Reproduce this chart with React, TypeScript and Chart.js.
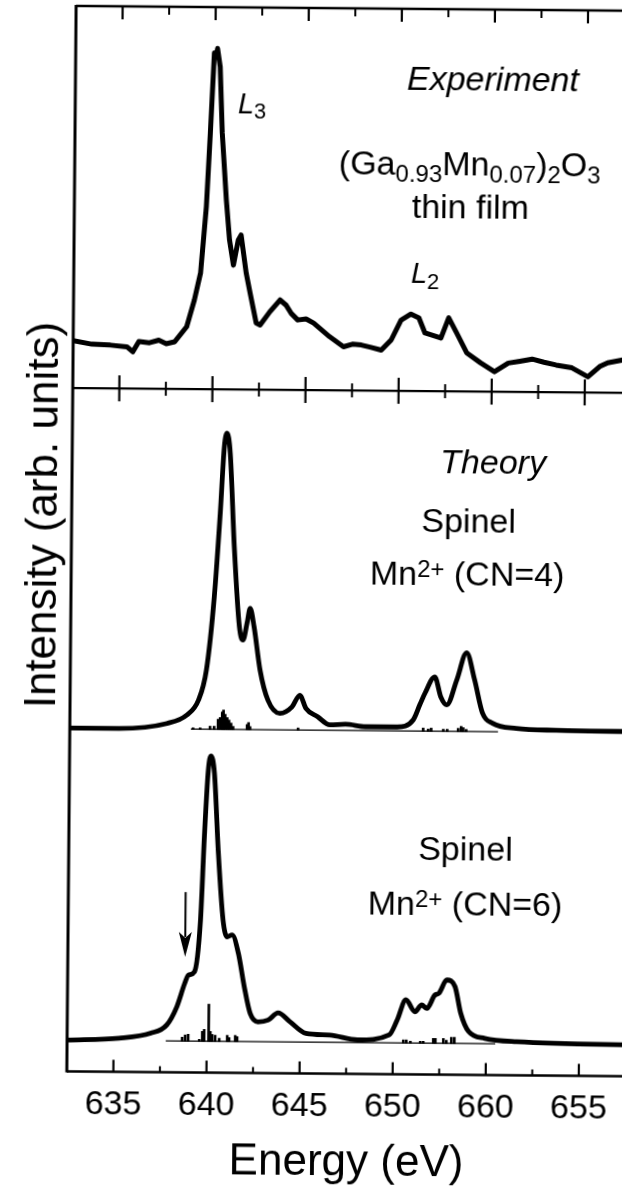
import { useEffect, useRef } from "react";
import { Chart, registerables } from "chart.js";

Chart.register(...registerables);

// ---------- axis ----------
const ENERGY_MIN = 632.5;
const ENERGY_MAX = 663.6;
const Y_MAX = 2.789;
const MAJOR_TICKS = [635, 640, 645, 650, 655, 660];
const TICK_LABELS = ["635", "640", "645", "650", "660", "655"];
const MINOR_TICKS = [637.5, 642.5, 647.5, 652.5, 657.5, 662.5];

// ---------- experiment (Ga0.93Mn0.07)2O3 thin film ----------
const EXP_ENERGY = [
  632.5, 633.5, 634.5, 635.39, 635.71, 636.03, 636.6, 637.1, 637.5, 637.95, 638.59, 638.99, 639.31, 639.59,
  639.77, 639.95, 640.05, 640.12, 640.27, 640.41, 640.66, 640.85, 641.07, 641.32, 641.47, 641.76,
  641.98, 642.32, 642.53, 643.05, 643.59, 643.91, 644.2, 644.55, 645.0, 645.41, 646.27, 647.02, 647.5,
  647.98, 648.5, 649.05, 649.58, 650.1, 650.63, 651.06, 651.39, 652.25, 652.66, 653.09, 653.64,
  654.39, 655.14, 655.88, 656.5, 657.16, 657.8, 658.45, 659.3, 660.16, 660.79, 661.22, 662.03, 663.6,
];
const EXP_INTENSITY = [
  0.124, 0.115, 0.113, 0.109, 0.096, 0.123, 0.12, 0.127, 0.118, 0.123, 0.163, 0.233, 0.304, 0.477,
  0.67, 0.88, 0.87, 0.892, 0.844, 0.671, 0.496, 0.391, 0.325, 0.391, 0.404, 0.305,
  0.253, 0.174, 0.169, 0.204, 0.235, 0.222, 0.2, 0.183, 0.186, 0.175, 0.14, 0.114, 0.121,
  0.119, 0.113, 0.106, 0.133, 0.185, 0.201, 0.191, 0.152, 0.139, 0.192, 0.153, 0.101,
  0.075, 0.052, 0.075, 0.08, 0.086, 0.078, 0.071, 0.064, 0.041, 0.068, 0.078, 0.086, 0.09,
];

// ---------- theory: spinel Mn2+ CN=4 ----------
const CN4_ENERGY = [
  632.5, 635.15, 637.71, 638.77, 639.4, 639.81, 640.2, 640.48, 640.67, 640.81, 640.99, 641.25, 641.56,
  641.76, 641.97, 642.13, 642.35, 642.69, 643.13, 643.78, 644.42, 644.84, 645.17, 645.81, 646.46,
  647.3, 648.38, 650.08, 650.94, 651.3, 651.56, 652.08, 652.41, 652.74, 653.26, 653.78, 654.22, 654.66,
  655.2, 656.48, 658.62, 663.6,
];
const CN4_INTENSITY = [
  0.0, 0.0, 0.014, 0.036, 0.076, 0.155, 0.347, 0.565, 0.74, 0.775, 0.723, 0.478, 0.269,
  0.234, 0.278, 0.317, 0.269, 0.156, 0.077, 0.043, 0.06, 0.091, 0.057, 0.035, 0.014,
  0.016, 0.01, 0.01, 0.029, 0.07, 0.099, 0.142, 0.09, 0.069, 0.134, 0.206, 0.135, 0.048,
  0.022, 0.009, 0.005, 0.003,
];
const CN4_STICK_ENERGY = [
  639.12, 639.5, 640.03, 640.25, 640.46, 640.57, 640.68, 640.75, 640.84, 640.95, 641.05, 641.16, 641.27,
  642.02, 642.1, 642.18, 644.76, 651.48, 651.75, 651.91, 652.56, 652.77, 653.36, 653.52, 653.63, 653.79,
];
const CN4_STICK_HEIGHT = [
  0.003, 0.003, 0.008, 0.008, 0.026, 0.031, 0.045, 0.05, 0.039, 0.031, 0.024, 0.016, 0.008,
  0.013, 0.018, 0.008, 0.005, 0.008, 0.005, 0.008, 0.005, 0.005, 0.008, 0.013, 0.01, 0.005,
];

// ---------- theory: spinel Mn2+ CN=6 ----------
const CN6_ENERGY = [
  632.5, 635.29, 636.99, 637.85, 638.38, 638.79, 638.99, 639.31, 639.61, 639.78, 639.96, 640.1, 640.29,
  640.54, 640.82, 641.05, 641.32, 641.66, 641.99, 642.32, 642.75, 643.29, 643.82, 644.46, 645.32,
  646.6, 648.09, 649.8, 650.22, 650.68, 651.17, 651.53, 651.81, 652.23, 652.45, 652.87, 653.31,
  653.63, 654.07, 654.93, 656.64, 663.6,
];
const CN6_INTENSITY = [
  0.0, 0.006, 0.02, 0.042, 0.09, 0.151, 0.173, 0.182, 0.317, 0.536, 0.71, 0.747, 0.702,
  0.492, 0.318, 0.274, 0.279, 0.231, 0.144, 0.074, 0.052, 0.057, 0.076, 0.053, 0.023,
  0.019, 0.007, 0.021, 0.06, 0.113, 0.082, 0.1, 0.091, 0.126, 0.131, 0.166, 0.149,
  0.079, 0.031, 0.014, 0.006, 0.0,
];
const CN6_STICK_ENERGY = [
  638.68, 638.84, 639.0, 639.6, 639.76, 639.86, 640.1, 640.19, 640.29, 640.45, 640.67, 641.1, 641.2,
  641.53, 641.63, 650.56, 650.72, 650.94, 651.47, 651.63, 652.17, 652.28, 652.71, 652.87, 653.14, 653.3,
];
const CN6_STICK_HEIGHT = [
  0.01, 0.016, 0.018, 0.005, 0.026, 0.031, 0.097, 0.026, 0.018, 0.016, 0.008, 0.016, 0.01,
  0.016, 0.013, 0.008, 0.008, 0.005, 0.005, 0.005, 0.013, 0.013, 0.013, 0.008, 0.016, 0.016,
];
const CN4_STICK_RANGE = [639.0, 655.5];
const CN6_STICK_RANGE = [637.8, 655.5];

// arrow marking the pre-edge shoulder of the CN=6 spectrum
const ARROW_ENERGY = 638.8;
const ARROW_FROM = 0.39;
const ARROW_TO = 0.22;

// vertical offsets of the three stacked spectra (in y-axis units)
const BASE_EXP = 1.789;
const BASE_CN4 = 0.899;
const BASE_CN6 = 0.082;

const SANS = '"Liberation Sans", Arial, Helvetica, sans-serif';

type Seg = { t: string; s?: "sub" | "sup"; i?: boolean };

function drawRich(
  ctx: CanvasRenderingContext2D,
  segs: Seg[],
  x: number,
  baseline: number,
  size: number,
  smallSize: number,
  align: "center" | "left",
  allItalic = false
) {
  const fontOf = (sg: Seg) =>
    `${sg.i || allItalic ? "italic " : ""}${sg.s ? smallSize : size}px ${SANS}`;
  let total = 0;
  const widths = segs.map((sg) => {
    ctx.font = fontOf(sg);
    const w = ctx.measureText(sg.t).width;
    total += w;
    return w;
  });
  let cx = align === "center" ? x - total / 2 : x;
  ctx.textAlign = "left";
  ctx.textBaseline = "alphabetic";
  segs.forEach((sg, k) => {
    ctx.font = fontOf(sg);
    const dy = sg.s === "sub" ? size * 0.2 : sg.s === "sup" ? -size * 0.25 : 0;
    ctx.fillText(sg.t, cx, baseline + dy);
    cx += widths[k];
  });
}

const pts = (xs: number[], ys: number[], base: number) => xs.map((x, i) => ({ x, y: ys[i] + base }));
const sticks = (xs: number[], hs: number[], base: number) =>
  xs.map((x, i) => ({ x, y: [base, base + hs[i]] }));

const framePlugin = {
  id: "frame",
  afterDatasetsDraw(chart: any) {
    const { ctx, chartArea: a, scales } = chart;
    const xs = scales.x;
    const ys = scales.y;
    const line = (x1: number, y1: number, x2: number, y2: number) => {
      ctx.beginPath();
      ctx.moveTo(x1, y1);
      ctx.lineTo(x2, y2);
      ctx.stroke();
    };
    ctx.save();
    ctx.strokeStyle = "#000";
    ctx.fillStyle = "#000";
    ctx.lineCap = "butt";
    const sep = ys.getPixelForValue(BASE_EXP);
    ctx.lineWidth = 3;
    line(a.left, a.top - 1, a.left, a.bottom + 1);
    ctx.lineWidth = 2.6;
    line(a.left, a.top, a.right, a.top);
    line(a.left, a.bottom, a.right, a.bottom);
    ctx.lineWidth = 2.2;
    line(a.left, sep, a.right, sep);
    ctx.lineWidth = 2.2;
    MAJOR_TICKS.forEach((v) => {
      const p = xs.getPixelForValue(v);
      line(p, a.top, p, a.top + 13);
      line(p, sep - 13, p, sep + 13);
      line(p, a.bottom, p, a.bottom - 12);
    });
    ctx.lineWidth = 2;
    MINOR_TICKS.forEach((v) => {
      const p = xs.getPixelForValue(v);
      line(p, a.top, p, a.top + 8);
      line(p, sep - 7, p, sep + 7);
      line(p, a.bottom, p, a.bottom - 6);
    });

    // arrow
    const ax = xs.getPixelForValue(ARROW_ENERGY);
    const ay1 = ys.getPixelForValue(BASE_CN6 + ARROW_FROM);
    const ay2 = ys.getPixelForValue(BASE_CN6 + ARROW_TO);
    ctx.lineWidth = 2;
    line(ax, ay1, ax, ay2 - 20);
    ctx.beginPath();
    ctx.moveTo(ax, ay2);
    ctx.lineTo(ax - 6.5, ay2 - 25);
    ctx.lineTo(ax, ay2 - 19);
    ctx.lineTo(ax + 6.5, ay2 - 25);
    ctx.closePath();
    ctx.fill();

    // texts
    ctx.font = `44px ${SANS}`;
    ctx.textAlign = "center";
    ctx.textBaseline = "alphabetic";
    ctx.fillText("Energy (eV)", 351, 1174.7);
    ctx.save();
    ctx.translate(56, 517.4);
    ctx.rotate(-Math.PI / 2);
    ctx.fillText("Intensity (arb. units)", 0, 0);
    ctx.restore();

    drawRich(ctx, [{ t: "Experiment" }], 488.5, 89, 34, 24, "center", true);
    drawRich(ctx, [{ t: "L", i: true }, { t: "3", s: "sub" }], 233.7, 113.6, 29, 22, "left");
    drawRich(
      ctx,
      [
        { t: "(Ga" },
        { t: "0.93", s: "sub" },
        { t: "Mn" },
        { t: "0.07", s: "sub" },
        { t: ")" },
        { t: "2", s: "sub" },
        { t: "O" },
        { t: "3", s: "sub" },
      ],
      466,
      174,
      34,
      24,
      "center"
    );
    drawRich(ctx, [{ t: "thin film" }], 467, 217, 34, 24, "center");
    drawRich(ctx, [{ t: "L", i: true }, { t: "2", s: "sub" }], 408.2, 282, 29, 22, "left");
    drawRich(ctx, [{ t: "Theory" }], 492, 472, 34, 24, "center", true);
    drawRich(ctx, [{ t: "Spinel" }], 468, 531, 34, 24, "center");
    drawRich(ctx, [{ t: "Mn" }, { t: "2+", s: "sup" }, { t: " (CN=4)" }], 467, 584, 34, 24, "center");
    drawRich(ctx, [{ t: "Spinel" }], 467.7, 859, 34, 24, "center");
    drawRich(ctx, [{ t: "Mn" }, { t: "2+", s: "sup" }, { t: " (CN=6)" }], 467.8, 914, 34, 24, "center");
    ctx.restore();
  },
};

export default function App() {
  const ref = useRef<HTMLCanvasElement>(null);
  useEffect(() => {
    const canvas = ref.current;
    if (!canvas) return;
    const curve = (label: string, data: any[], width: number, smooth: boolean) => ({
      type: "line" as const,
      label,
      data,
      borderColor: "#000",
      backgroundColor: "#000",
      borderWidth: width,
      pointRadius: 0,
      borderJoinStyle: "round" as const,
      borderCapStyle: "round" as const,
      tension: 0,
      cubicInterpolationMode: smooth ? ("monotone" as const) : ("default" as const),
    });
    const chart = new Chart(canvas, {
      type: "line",
      data: {
        datasets: [
          curve("Experiment", pts(EXP_ENERGY, EXP_INTENSITY, BASE_EXP), 5, false),
          curve("Spinel Mn2+ (CN=4)", pts(CN4_ENERGY, CN4_INTENSITY, BASE_CN4), 4.8, true),
          curve("Spinel Mn2+ (CN=6)", pts(CN6_ENERGY, CN6_INTENSITY, BASE_CN6), 4.8, true),
          {
            ...curve(
              "CN=4 stick baseline",
              CN4_STICK_RANGE.map((x) => ({ x, y: BASE_CN4 })),
              1.2,
              false
            ),
            borderCapStyle: "butt" as const,
          },
          {
            ...curve(
              "CN=6 stick baseline",
              CN6_STICK_RANGE.map((x) => ({ x, y: BASE_CN6 })),
              1.2,
              false
            ),
            borderCapStyle: "butt" as const,
          },
          {
            type: "bar" as const,
            label: "CN=4 multiplets",
            data: sticks(CN4_STICK_ENERGY, CN4_STICK_HEIGHT, BASE_CN4) as any,
            backgroundColor: "#000",
            borderWidth: 0,
            barThickness: 2,
            grouped: false,
          },
          {
            type: "bar" as const,
            label: "CN=6 multiplets",
            data: sticks(CN6_STICK_ENERGY, CN6_STICK_HEIGHT, BASE_CN6) as any,
            backgroundColor: "#000",
            borderWidth: 0,
            barThickness: 2,
            grouped: false,
          },
        ] as any,
      },
      options: {
        responsive: false,
        animation: false,
        devicePixelRatio: 1,
        events: [],
        layout: { padding: { left: 71, top: 8, right: 0, bottom: 0 } },
        plugins: { legend: { display: false }, tooltip: { enabled: false }, title: { display: false } },
        scales: {
          x: {
            type: "linear",
            min: ENERGY_MIN,
            max: ENERGY_MAX,
            offset: false,
            position: "bottom",
            grid: { display: false, drawTicks: false },
            border: { display: false },
            afterBuildTicks: (scale: any) => {
              scale.ticks = MAJOR_TICKS.map((value) => ({ value }));
            },
            afterFit: (scale: any) => {
              scale.height = 113.5;
            },
            ticks: {
              autoSkip: false,
              maxRotation: 0,
              minRotation: 0,
              padding: 13,
              color: "#000",
              font: { family: SANS, size: 34 },
              callback: (value: any) => {
                const k = MAJOR_TICKS.indexOf(Number(value));
                return k >= 0 ? TICK_LABELS[k] : "";
              },
            },
          },
          y: {
            type: "linear",
            display: false,
            min: 0,
            max: Y_MAX,
          },
        },
      },
      plugins: [framePlugin],
    } as any);
    return () => chart.destroy();
  }, []);

  return (
    <div
      style={{
        position: "fixed",
        left: 0,
        top: 0,
        width: 622,
        height: 1187,
        overflow: "hidden",
        background: "#fff",
      }}
    >
      <div
        style={{
          position: "absolute",
          left: 0,
          top: 0,
          width: 650,
          height: 1187,
          transform: "rotate(0.5deg)",
          transformOrigin: "311px 593px",
        }}
      >
        <canvas ref={ref} width={650} height={1187} style={{ display: "block", width: 650, height: 1187 }} />
      </div>
    </div>
  );
}
